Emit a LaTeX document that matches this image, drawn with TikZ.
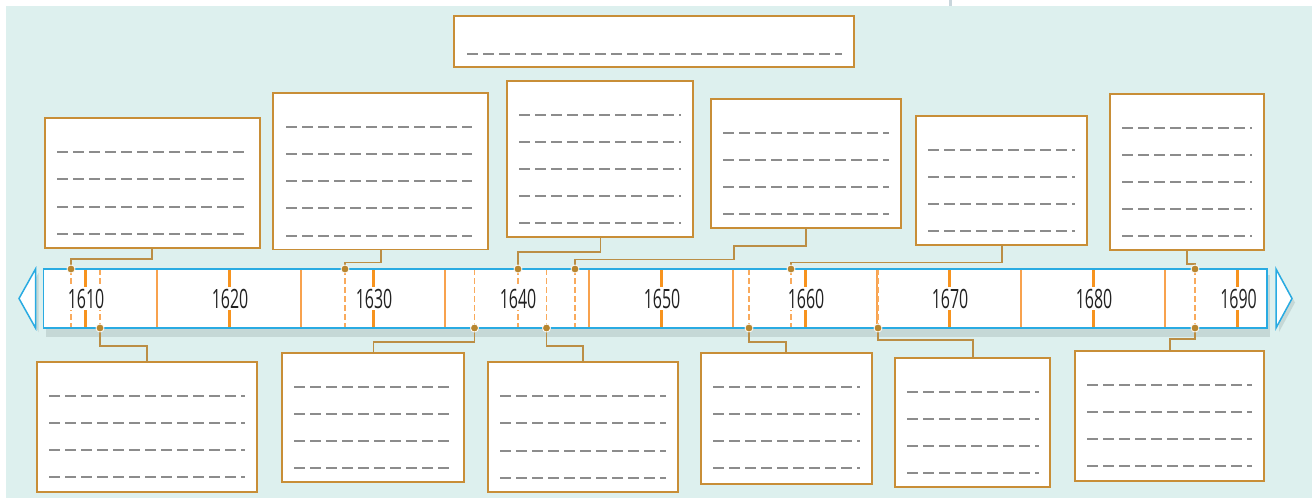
\documentclass[tikz,border=0pt]{standalone}
\usepackage{fontspec}
\usetikzlibrary{calc}
\newfontfamily\yearfont[FakeStretch=0.6]{Open Sans}
\definecolor{bgteal}{HTML}{DDF0EE}
\definecolor{shadowgray}{HTML}{C5D8D6}
\definecolor{barcyan}{HTML}{29ABE2}
\definecolor{tickorange}{HTML}{F7931E}
\definecolor{divorange}{HTML}{F8A24E}
\definecolor{evorange}{HTML}{F9AA5C}
\definecolor{dotbrown}{HTML}{B8862F}
\definecolor{connbrown}{HTML}{BB8E45}
\definecolor{boxborder}{HTML}{C88E37}
\definecolor{notegray}{HTML}{8C8C8C}
\definecolor{topmark}{HTML}{C9D6DC}
\definecolor{yeartext}{HTML}{222222}
\tikzset{
 notebox/.style={draw=boxborder, line width=1.7pt, fill=white, inner sep=0pt, outer sep=0pt},
 noteline/.style={draw=notegray, line width=2.6pt, dash pattern=on 11pt off 5pt},
 conn/.style={draw=connbrown, line width=1.6pt},
 evline/.style={draw=evorange, line width=1.6pt, dash pattern=on 5.5pt off 3.5pt},
 divline/.style={draw=divorange, line width=1.5pt},
 tickline/.style={draw=tickorange, line width=3pt},
 evdot/.style={circle, fill=dotbrown, draw=white, line width=0.8pt, minimum size=8pt, inner sep=0pt},
 yearlabel/.style={fill=white, text=yeartext, font=\yearfont\fontsize{26.6}{30}\selectfont, anchor=base, text height=19pt, text depth=0pt, inner xsep=1pt, inner ysep=2pt},
 arrowtri/.style={draw=barcyan, fill=white, line width=1.5pt},
}
\newcommand\NoteBox[8]{%
 \node[notebox, minimum width={(#4)-(#2)}, minimum height={(#5)-(#3)}] (#1) at ({((#2)+(#4))/2},{((#3)+(#5))/2}) {};
 \foreach \i in {1,...,#6}{\draw[noteline] (#7,{round(#3+34+27.15*(\i-1))}) -- (#8,{round(#3+34+27.15*(\i-1))});}
}
\begin{document}
\begin{tikzpicture}[x=1pt,y=-1pt]
\useasboundingbox (0,0) rectangle (1312,498);
\fill[white] (0,0) rectangle (1312,498);
\fill[bgteal] (6,6) rectangle (1312,498);
\fill[topmark] (948.5,0) rectangle (951.5,6);
% shadows
\fill[shadowgray] (46,275) rectangle (1270,337);
\fill[shadowgray] (22,302.5) -- (38.5,273) -- (38.5,332) -- cycle;
\fill[shadowgray] (1279,273) -- (1295,302.5) -- (1279,332) -- cycle;
% bar
\node[fill=white, inner sep=0pt, outer sep=0pt, minimum width=1223.7pt, minimum height=59pt] (bar) at (655.15,298.5) {};
\foreach \x in {157,301,...,1165} \draw[divline] (\x,269) -- (\x,328);
\foreach \x in {85.3,229.3,373.3,661.3,805.5,949.5,1093.5,1237.6} \draw[tickline] (\x,269) -- (\x,328);
% events
\coordinate (eA) at (71,269);
\coordinate (eB) at (100,328);
\coordinate (eC) at (345,269);
\coordinate (eD) at (474.5,328);
\coordinate (eE) at (518,269);
\coordinate (eF) at (546.5,328);
\coordinate (eG) at (575,269);
\coordinate (eH) at (749,328);
\coordinate (eI) at (791,269);
\coordinate (eJ) at (878,328);
\coordinate (eKt) at (1195,269);
\coordinate (eKb) at (1195,328);
\foreach \x in {71,100,345,474.5,518,546.5,575,749,791,878,1195} \draw[evline] (\x,269) -- (\x,328);
% year labels
\node[yearlabel] (y1610) at (86,308.3) {1610};
\node[yearlabel] (y1620) at (230,308.3) {1620};
\node[yearlabel] (y1630) at (374,308.3) {1630};
\node[yearlabel] (y1640) at (518,308.3) {1640};
\node[yearlabel] (y1650) at (662,308.3) {1650};
\node[yearlabel] (y1660) at (806,308.3) {1660};
\node[yearlabel] (y1670) at (950,308.3) {1670};
\node[yearlabel] (y1680) at (1094,308.3) {1680};
\node[yearlabel] (y1690) at (1238.5,308.3) {1690};
\draw[barcyan, line width=1.5pt] (bar.north west) rectangle (bar.south east);
% arrows
\draw[arrowtri] (19,298.5) -- (35.5,269) -- (35.5,328) -- cycle;
\draw[arrowtri] (1276,269) -- (1292,298.5) -- (1276,328) -- cycle;
% title box
\node[notebox, minimum width=400pt, minimum height=51pt] (title) at (654,41.2) {};
\draw[noteline] (467,54) -- (842,54);
% top boxes
\NoteBox{t1}{45}{118.3}{259.7}{247.7}{4}{57}{244}
\NoteBox{t2}{273}{93}{488.3}{249.5}{5}{286}{472}
\NoteBox{t3}{506.7}{80.7}{693.3}{237.3}{5}{519}{681}
\NoteBox{t4}{711.3}{98.7}{900.7}{228}{4}{723.3}{888.7}
\NoteBox{t5}{916.3}{115.7}{1086.7}{245.3}{4}{928}{1075}
\NoteBox{t6}{1110.3}{93.7}{1263.7}{250.3}{5}{1122}{1252}
% bottom boxes
\NoteBox{b1}{37.3}{362}{256.7}{491.7}{4}{49}{245}
\NoteBox{b2}{282.3}{352.7}{464.3}{482.3}{4}{294.3}{449.3}
\NoteBox{b3}{488}{362.3}{677.7}{492}{4}{500}{665.7}
\NoteBox{b4}{701}{353}{872.3}{484}{4}{713}{860}
\NoteBox{b5}{895.3}{357.7}{1050.3}{487}{4}{907}{1039}
\NoteBox{b6}{1074.7}{351}{1264.3}{480.7}{4}{1087}{1252}
% connectors
\draw[conn] ($(t1.south west)+(107,0)$) |- ($(eA)+(0,-10)$) -- (eA);
\draw[conn] ($(t2.south west)+(107.7,0)$) |- ($(eC)+(0,-6.7)$) -- (eC);
\draw[conn] ($(t3.south west)+(93.6,0)$) |- ($(eE)+(0,-17.3)$) -- (eE);
\draw[conn] ($(t4.south west)+(94.4,0)$) |- (733.7,246) |- ($(eG)+(0,-9.7)$) -- (eG);
\draw[conn] ($(t5.south west)+(85.4,0)$) |- ($(eI)+(0,-6.7)$) -- (eI);
\draw[conn] ($(t6.south west)+(76.7,0)$) |- ($(eKt)+(0,-5)$) -- (eKt);
\draw[conn] (eB) -- ($(eB)+(0,17.7)$) -| ($(b1.north west)+(109.4,0)$);
\draw[conn] (eD) -- ($(eD)+(0,13.7)$) -| ($(b2.north west)+(91,0)$);
\draw[conn] (eF) -- ($(eF)+(0,17.7)$) -| ($(b3.north west)+(94.7,0)$);
\draw[conn] (eH) -- ($(eH)+(0,13.7)$) -| ($(b4.north west)+(85,0)$);
\draw[conn] (eJ) -- ($(eJ)+(0,11.7)$) -| ($(b5.north west)+(77.7,0)$);
\draw[conn] (eKb) -- ($(eKb)+(0,11)$) -| ($(b6.north west)+(95,0)$);
% dots
\foreach \p in {eA,eB,eC,eD,eE,eF,eG,eH,eI,eJ,eKt,eKb} \node[evdot] (d\p) at (\p) {};
\end{tikzpicture}
\end{document}
